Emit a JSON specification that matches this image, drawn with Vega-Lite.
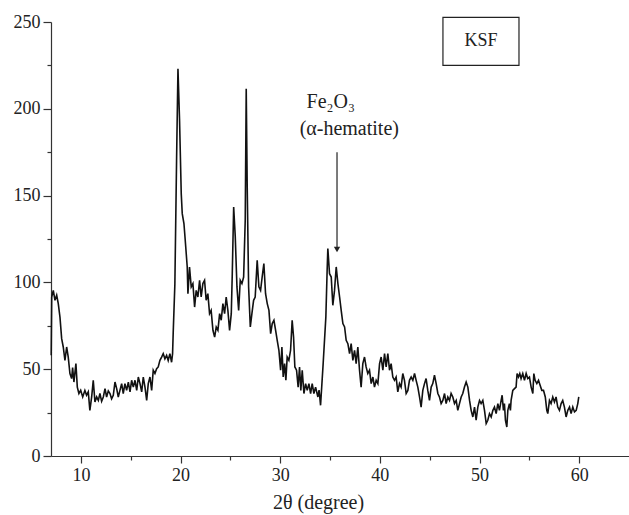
{
  "$schema": "https://vega.github.io/schema/vega-lite/v6.json",
  "autosize": {"type": "none"},
  "width": 578,
  "height": 434,
  "padding": {"left": 51, "top": 22, "right": 0, "bottom": 59},
  "background": "white",
  "config": {
    "view": {"stroke": null},
    "axis": {
      "grid": false,
      "labelFont": "Liberation Serif",
      "labelFontSize": 18,
      "labelColor": "#222",
      "domainColor": "#333",
      "tickColor": "#333",
      "domainWidth": 1.2,
      "tickWidth": 1.2,
      "titleFont": "Liberation Serif",
      "titleFontSize": 20,
      "titleFontWeight": "normal",
      "titleColor": "#222"
    }
  },
  "datasets": {
    "xrd": [
      {"t":7.02,"i":58},{"t":7.07,"i":91.6},{"t":7.23,"i":95.4},{"t":7.4,"i":89.7},{"t":7.57,"i":92.6},{"t":7.73,"i":87.8},{"t":7.9,"i":80},{"t":8.07,"i":67.6},{"t":8.23,"i":62.8},{"t":8.4,"i":55},{"t":8.57,"i":62.8},{"t":8.73,"i":57},{"t":8.9,"i":47.5},{"t":9.07,"i":44.6},{"t":9.17,"i":51},{"t":9.3,"i":42.6},{"t":9.5,"i":53.2},{"t":9.64,"i":39.7},{"t":9.8,"i":36},{"t":9.98,"i":37.8},
      {"t":10.18,"i":34},{"t":10.4,"i":37.8},{"t":10.57,"i":35},{"t":10.74,"i":36.9},{"t":10.9,"i":26.3},{"t":11.08,"i":34},{"t":11.24,"i":43.6},{"t":11.41,"i":31.1},{"t":11.58,"i":34},{"t":11.75,"i":32},{"t":11.91,"i":36},{"t":12.08,"i":31.5},{"t":12.25,"i":34},{"t":12.42,"i":38.8},{"t":12.58,"i":34},{"t":12.75,"i":37.5},{"t":12.92,"i":36},{"t":13.08,"i":33},{"t":13.25,"i":35},{"t":13.42,"i":42.6},{"t":13.59,"i":38.8},{"t":13.75,"i":34},{"t":13.92,"i":37.8},{"t":14.09,"i":41.7},{"t":14.25,"i":36},{"t":14.42,"i":41.7},{"t":14.59,"i":37.8},{"t":14.76,"i":42.6},{"t":14.93,"i":36.9},
      {"t":15.09,"i":43.6},{"t":15.26,"i":39.7},{"t":15.43,"i":43.6},{"t":15.6,"i":37.8},{"t":15.76,"i":45.5},{"t":15.93,"i":41.7},{"t":16.1,"i":36.9},{"t":16.26,"i":45.5},{"t":16.43,"i":39.7},{"t":16.6,"i":32},{"t":16.76,"i":41.7},{"t":16.93,"i":45.5},{"t":17.1,"i":37.8},{"t":17.26,"i":49.4},{"t":17.43,"i":47.5},{"t":17.6,"i":50.3},{"t":17.76,"i":51.3},{"t":17.93,"i":55.1},{"t":18.1,"i":57},{"t":18.26,"i":59},{"t":18.43,"i":56},{"t":18.6,"i":58},{"t":18.76,"i":55},{"t":18.93,"i":59},{"t":19.1,"i":54},{"t":19.2,"i":59},
      {"t":19.26,"i":70.5},{"t":19.43,"i":99},{"t":19.6,"i":170},{"t":19.74,"i":223},{"t":19.9,"i":193.4},{"t":20.07,"i":151},{"t":20.17,"i":139.6},{"t":20.34,"i":133.9},{"t":20.47,"i":124.3},{"t":20.67,"i":108.9},{"t":20.74,"i":93.5},{"t":20.9,"i":108.9},{"t":21.07,"i":97.4},{"t":21.24,"i":99.3},{"t":21.41,"i":85.8},{"t":21.57,"i":95.4},{"t":21.74,"i":91.6},{"t":21.91,"i":101.2},{"t":22.07,"i":91.6},{"t":22.24,"i":99.3},{"t":22.41,"i":101.2},{"t":22.57,"i":89.7},{"t":22.74,"i":93.5},{"t":22.91,"i":82},{"t":23.07,"i":83.9},{"t":23.25,"i":72.4},{"t":23.42,"i":68.5},{"t":23.58,"i":74.3},{"t":23.75,"i":72.4},{"t":23.92,"i":82},{"t":24.08,"i":78.2},{"t":24.25,"i":87.8},{"t":24.42,"i":82},{"t":24.58,"i":91.6},{"t":24.75,"i":83.9},{"t":24.92,"i":72.4},
      {"t":25.09,"i":82},{"t":25.19,"i":105},{"t":25.33,"i":143.4},{"t":25.49,"i":126.2},{"t":25.66,"i":97.4},{"t":25.83,"i":83.9},{"t":25.99,"i":101.2},{"t":26.16,"i":99.3},{"t":26.33,"i":103.1},{"t":26.49,"i":135.8},{"t":26.59,"i":211.6},{"t":26.69,"i":155},{"t":26.83,"i":97.4},{"t":27,"i":74.3},{"t":27.16,"i":82},{"t":27.33,"i":89.7},{"t":27.49,"i":91.6},{"t":27.69,"i":112.7},{"t":27.86,"i":97.4},{"t":28.03,"i":95.4},{"t":28.19,"i":103.1},{"t":28.36,"i":110.8},{"t":28.53,"i":93.5},{"t":28.7,"i":87.8},{"t":28.87,"i":83.9},{"t":29.04,"i":70.5},{"t":29.2,"i":76.3},{"t":29.37,"i":78.2},{"t":29.54,"i":72.4},{"t":29.7,"i":66.6},{"t":29.87,"i":60.9},
      {"t":30.04,"i":49.4},{"t":30.17,"i":62.8},{"t":30.3,"i":45.5},{"t":30.44,"i":53.2},{"t":30.57,"i":43.6},{"t":30.7,"i":57},{"t":30.87,"i":55.1},{"t":31.04,"i":60.9},{"t":31.2,"i":78.2},{"t":31.34,"i":68.5},{"t":31.47,"i":51.3},{"t":31.64,"i":49.4},{"t":31.8,"i":39.7},{"t":31.94,"i":51.3},{"t":32.07,"i":37.8},{"t":32.21,"i":49.4},{"t":32.38,"i":36},{"t":32.55,"i":41.7},{"t":32.71,"i":37.8},{"t":32.88,"i":41.7},{"t":33.05,"i":36},{"t":33.21,"i":41.7},{"t":33.38,"i":36},{"t":33.55,"i":39.7},{"t":33.78,"i":34},{"t":33.9,"i":38},{"t":34.05,"i":29.2},
      {"t":34.31,"i":53.2},{"t":34.58,"i":80},{"t":34.71,"i":107},{"t":34.78,"i":119.5},{"t":34.95,"i":105},{"t":35.12,"i":103.1},{"t":35.28,"i":86.8},{"t":35.45,"i":95.4},{"t":35.62,"i":108.9},{"t":35.79,"i":99.3},{"t":35.96,"i":91.6},{"t":36.12,"i":83.9},{"t":36.29,"i":76.3},{"t":36.46,"i":74.3},{"t":36.62,"i":66.6},{"t":36.79,"i":64.7},{"t":36.96,"i":59},{"t":37.12,"i":64.7},{"t":37.29,"i":55.1},{"t":37.46,"i":60.9},{"t":37.62,"i":53.2},{"t":37.79,"i":62.8},{"t":37.96,"i":49.4},{"t":38.12,"i":39.7},{"t":38.29,"i":53.2},{"t":38.46,"i":57},{"t":38.62,"i":51.3},{"t":38.79,"i":47.5},{"t":38.96,"i":49.4},{"t":39.13,"i":41.7},{"t":39.3,"i":45.5},{"t":39.46,"i":39.7},{"t":39.63,"i":43.6},{"t":39.8,"i":41.7},{"t":39.97,"i":53.2},
      {"t":40.13,"i":57},{"t":40.3,"i":49.4},{"t":40.47,"i":59},{"t":40.63,"i":51.3},{"t":40.8,"i":59},{"t":40.97,"i":49.4},{"t":41.13,"i":53.2},{"t":41.3,"i":45.5},{"t":41.47,"i":43.6},{"t":41.63,"i":45.5},{"t":41.8,"i":36.9},{"t":41.97,"i":41.7},{"t":42.13,"i":39.7},{"t":42.3,"i":47.5},{"t":42.47,"i":43.6},{"t":42.64,"i":36},{"t":42.81,"i":37.8},{"t":42.97,"i":43.6},{"t":43.14,"i":45.5},{"t":43.31,"i":43.6},{"t":43.48,"i":47.5},{"t":43.64,"i":43.6},{"t":43.81,"i":39.7},{"t":43.98,"i":34},{"t":44.14,"i":28.2},{"t":44.31,"i":37.8},{"t":44.48,"i":41.7},{"t":44.64,"i":44.6},{"t":44.81,"i":37.8},{"t":44.98,"i":32},
      {"t":45.15,"i":39.7},{"t":45.31,"i":41.7},{"t":45.48,"i":46.5},{"t":45.65,"i":41.7},{"t":45.82,"i":36},{"t":45.98,"i":34},{"t":46.15,"i":30.2},{"t":46.32,"i":32},{"t":46.49,"i":36},{"t":46.65,"i":30.2},{"t":46.82,"i":34},{"t":46.99,"i":32},{"t":47.15,"i":36},{"t":47.32,"i":34},{"t":47.49,"i":30.2},{"t":47.66,"i":32},{"t":47.82,"i":26.3},{"t":47.99,"i":30.2},{"t":48.16,"i":34},{"t":48.32,"i":36},{"t":48.49,"i":39.7},{"t":48.66,"i":42.6},{"t":48.83,"i":39.7},{"t":49,"i":32},{"t":49.16,"i":26.3},{"t":49.33,"i":22.5},{"t":49.5,"i":28.2},{"t":49.66,"i":20.6},{"t":49.83,"i":28.2},
      {"t":50,"i":32},{"t":50.16,"i":30.2},{"t":50.33,"i":32},{"t":50.5,"i":26.3},{"t":50.67,"i":18.7},{"t":50.83,"i":20.6},{"t":51,"i":24.4},{"t":51.17,"i":22.5},{"t":51.34,"i":26.3},{"t":51.5,"i":28.2},{"t":51.67,"i":24.4},{"t":51.84,"i":30.2},{"t":52,"i":26.3},{"t":52.17,"i":32},{"t":52.27,"i":35},{"t":52.4,"i":26.3},{"t":52.5,"i":30.2},{"t":52.6,"i":20.6},{"t":52.74,"i":16.7},{"t":52.84,"i":26.3},{"t":53,"i":30.2},{"t":53.1,"i":26.3},{"t":53.17,"i":32},{"t":53.34,"i":37.8},{"t":53.51,"i":38.8},{"t":53.67,"i":39.7},{"t":53.77,"i":47.5},{"t":53.91,"i":45.5},{"t":54.04,"i":47.5},{"t":54.17,"i":44.6},{"t":54.34,"i":47.5},{"t":54.51,"i":43.6},{"t":54.68,"i":47.5},{"t":54.84,"i":44.6},
      {"t":55.01,"i":45.5},{"t":55.18,"i":39.7},{"t":55.35,"i":36},{"t":55.45,"i":47.5},{"t":55.58,"i":43.6},{"t":55.75,"i":41.7},{"t":55.92,"i":43.6},{"t":56.08,"i":40.7},{"t":56.25,"i":37.8},{"t":56.42,"i":37.8},{"t":56.6,"i":34},{"t":56.75,"i":26.3},{"t":56.85,"i":24.4},{"t":57.02,"i":32},{"t":57.18,"i":30.2},{"t":57.35,"i":34},{"t":57.52,"i":31.1},{"t":57.68,"i":34},{"t":57.85,"i":28.2},{"t":58.02,"i":26.3},{"t":58.19,"i":30.2},{"t":58.35,"i":32},{"t":58.52,"i":28.2},{"t":58.69,"i":22.5},{"t":58.86,"i":26.3},{"t":59.03,"i":28.2},{"t":59.19,"i":24.4},{"t":59.36,"i":28.2},{"t":59.53,"i":25.4},{"t":59.7,"i":26.3},{"t":59.86,"i":30.2},{"t":59.96,"i":34}
    ],
    "box": [{"x1": 46.33, "x2": 53.96, "y1": 225, "y2": 252.7, "label": "KSF", "xc": 50.14, "yc": 238.8}],
    "notes": [
      {"x": 32.65, "y": 204, "label": "Fe₂O₃"},
      {"x": 31.95, "y": 188.5, "label": "(α-hematite)"}
    ],
    "arrow": [{"x": 35.7, "y1": 175, "y2": 119}]
  },
  "layer": [
    {
      "data": {"name": "xrd"},
      "mark": {"type": "line", "color": "#111", "strokeWidth": 1.6, "interpolate": "linear"},
      "encoding": {
        "x": {
          "field": "t", "type": "quantitative",
          "scale": {"domain": [7, 65], "nice": false, "zero": false},
          "axis": {
            "title": "2θ (degree)",
            "values": [10, 15, 20, 25, 30, 35, 40, 45, 50, 55, 60],
            "labelExpr": "datum.value % 10 === 0 ? datum.label : ''",
            "tickSize": {"condition": {"test": "datum.value % 10 === 0", "value": 7}, "value": 4},
            "labelPadding": 3,
            "titleX": 267,
            "titleY": 36,
            "titleAnchor": "middle",
            "titleBaseline": "top"
          }
        },
        "y": {
          "field": "i", "type": "quantitative",
          "scale": {"domain": [0, 250], "nice": false},
          "axis": {
            "title": null,
            "values": [0, 25, 50, 75, 100, 125, 150, 175, 200, 225, 250],
            "labelExpr": "datum.value % 50 === 0 ? datum.label : ''",
            "tickSize": {"condition": {"test": "datum.value % 50 === 0", "value": 8}, "value": 4},
            "labelPadding": 3
          }
        }
      }
    },
    {
      "data": {"name": "box"},
      "mark": {"type": "rect", "fill": "white", "stroke": "#222", "strokeWidth": 1.2},
      "encoding": {
        "x": {"field": "x1", "type": "quantitative"},
        "x2": {"field": "x2"},
        "y": {"field": "y1", "type": "quantitative"},
        "y2": {"field": "y2"}
      }
    },
    {
      "data": {"name": "box"},
      "mark": {"type": "text", "font": "Liberation Serif", "fontSize": 18, "color": "#222", "align": "center", "baseline": "middle"},
      "encoding": {
        "x": {"field": "xc", "type": "quantitative"},
        "y": {"field": "yc", "type": "quantitative"},
        "text": {"field": "label"}
      }
    },
    {
      "data": {"name": "notes"},
      "mark": {"type": "text", "font": "Liberation Serif", "fontSize": 20, "color": "#222", "align": "left", "baseline": "middle"},
      "encoding": {
        "x": {"field": "x", "type": "quantitative"},
        "y": {"field": "y", "type": "quantitative"},
        "text": {"field": "label"}
      }
    },
    {
      "data": {"name": "arrow"},
      "mark": {"type": "rule", "color": "#222", "strokeWidth": 1.2},
      "encoding": {
        "x": {"field": "x", "type": "quantitative"},
        "y": {"field": "y1", "type": "quantitative"},
        "y2": {"field": "y2"}
      }
    },
    {
      "data": {"name": "arrow"},
      "mark": {"type": "point", "shape": "triangle-down", "filled": true, "color": "#222", "size": 40, "opacity": 1},
      "encoding": {
        "x": {"field": "x", "type": "quantitative"},
        "y": {"field": "y2", "type": "quantitative"}
      }
    }
  ]
}
